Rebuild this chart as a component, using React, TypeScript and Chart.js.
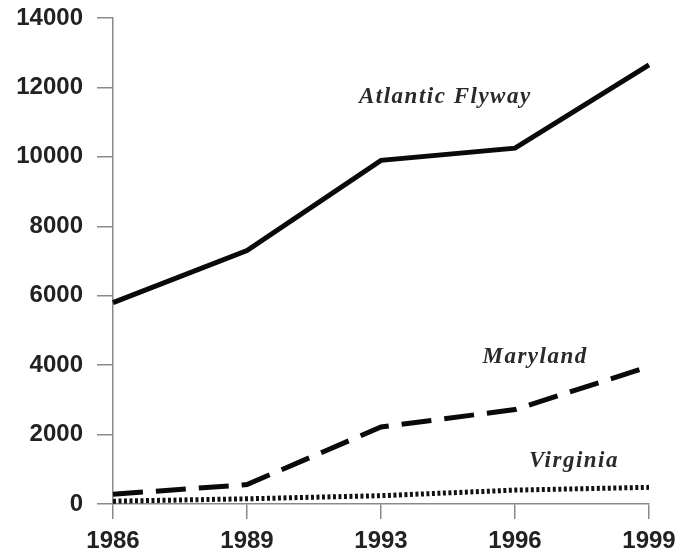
import React, { useEffect, useRef } from "react";
import { Chart, registerables } from "chart.js";

Chart.register(...registerables);

const years = ["1986", "1989", "1993", "1996", "1999"];
const atlanticFlyway = [5800, 7300, 9900, 10250, 12650];
const maryland = [280, 560, 2220, 2720, 3960];
const virginia = [80, 150, 240, 400, 480];
const yTicks = [0, 2000, 4000, 6000, 8000, 10000, 12000, 14000];

const seriesLabels = [
  { text: "Atlantic Flyway", x: 2.48, y: 11730 },
  { text: "Maryland", x: 3.15, y: 4240 },
  { text: "Virginia", x: 3.44, y: 1240 },
];

const labelPlugin = {
  id: "seriesLabels",
  afterDatasetsDraw(chart: any) {
    const { ctx, scales } = chart;
    ctx.save();
    ctx.font = "italic bold 23px 'Liberation Serif', 'Times New Roman', serif";
    try {
      (ctx as any).letterSpacing = "1.5px";
    } catch (e) {}
    ctx.fillStyle = "#2a2a2a";
    ctx.textAlign = "center";
    ctx.textBaseline = "middle";
    for (const l of seriesLabels) {
      ctx.fillText(l.text, scales.x.getPixelForValue(l.x), scales.y.getPixelForValue(l.y));
    }
    ctx.restore();
  },
};

export default function App() {
  const ref = useRef<HTMLCanvasElement>(null);
  useEffect(() => {
    if (!ref.current) return;
    const axisColor = "#8a8a8a";
    const chart = new Chart(ref.current, {
      type: "line",
      data: {
        labels: years,
        datasets: [
          {
            label: "Atlantic Flyway",
            data: atlanticFlyway,
            borderColor: "#0a0a0a",
            borderWidth: 5,
            pointRadius: 0,
            tension: 0,
            borderJoinStyle: "miter",
          },
          {
            label: "Maryland",
            data: maryland,
            borderColor: "#0a0a0a",
            borderWidth: 5,
            borderDash: [30, 13],
            pointRadius: 0,
            tension: 0,
          },
          {
            label: "Virginia",
            data: virginia,
            borderColor: "#111",
            borderWidth: 5,
            borderDash: [3, 2.5],
            pointRadius: 0,
            tension: 0,
          },
        ],
      },
      options: {
        animation: false,
        responsive: false,
        maintainAspectRatio: false,
        layout: { padding: { top: 18, right: 43, left: 0, bottom: 0 } },
        plugins: { legend: { display: false }, tooltip: { enabled: false } },
        scales: {
          x: {
            offset: false,
            border: { color: axisColor, width: 1.5 },
            grid: { drawOnChartArea: false, drawTicks: true, tickLength: 15, color: axisColor, lineWidth: 1.5 },
            ticks: {
              color: "#222",
              padding: 8,
              maxRotation: 0,
              font: { family: "'Liberation Sans', Arial, sans-serif", size: 24, weight: "bold" },
            },
            afterFit(scale: any) {
              scale.height = 49;
              scale.paddingRight = 0;
              scale.paddingLeft = 0;
            },
          },
          y: {
            min: 0,
            max: 14000,
            afterBuildTicks(scale: any) {
              scale.ticks = yTicks.map((v) => ({ value: v }));
            },
            border: { color: axisColor, width: 1.5 },
            grid: { drawOnChartArea: false, drawTicks: true, tickLength: 16, color: axisColor, lineWidth: 1.5 },
            ticks: {
              color: "#222",
              padding: 14,
              callback: (v: any) => String(v),
              font: { family: "'Liberation Sans', Arial, sans-serif", size: 24, weight: "bold" },
            },
            afterFit(scale: any) {
              scale.width = 113;
              scale.paddingTop = 0;
              scale.paddingBottom = 0;
            },
          },
        },
      },
      plugins: [labelPlugin],
    } as any);
    return () => chart.destroy();
  }, []);
  return (
    <div style={{ position: "fixed", left: 0, top: 0, width: 692, height: 553, background: "#fff" }}>
      <canvas ref={ref} width={692} height={553} style={{ display: "block" }} />
    </div>
  );
}
